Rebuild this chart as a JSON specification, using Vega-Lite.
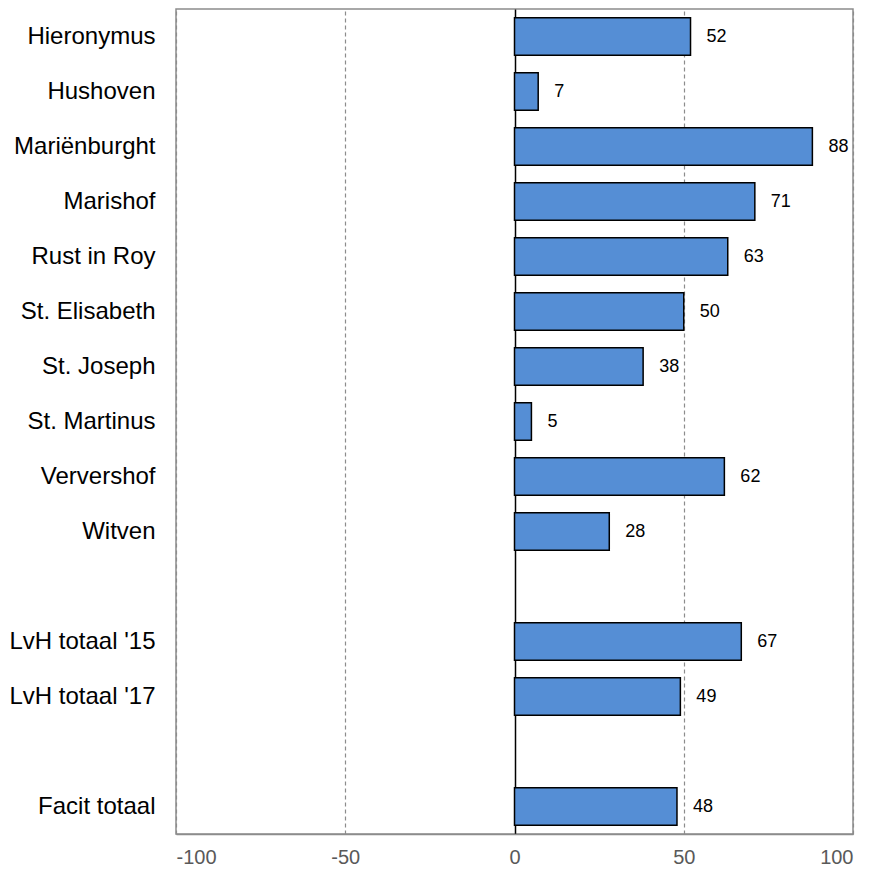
{
  "$schema": "https://vega.github.io/schema/vega-lite/v6.json",
  "width": 677,
  "height": 825,
  "autosize": {"type": "none"},
  "padding": {"left": 176, "top": 9, "right": 19, "bottom": 35},
  "background": "white",
  "config": {
    "font": "Liberation Sans",
    "view": {"stroke": "#8c8c8c", "strokeWidth": 1.5}
  },
  "data": {
    "values": [
      {"name": "Hieronymus", "value": 52},
      {"name": "Hushoven", "value": 7},
      {"name": "Mariënburght", "value": 88},
      {"name": "Marishof", "value": 71},
      {"name": "Rust in Roy", "value": 63},
      {"name": "St. Elisabeth", "value": 50},
      {"name": "St. Joseph", "value": 38},
      {"name": "St. Martinus", "value": 5},
      {"name": "Ververshof", "value": 62},
      {"name": "Witven", "value": 28},
      {"name": "LvH totaal '15", "value": 67},
      {"name": "LvH totaal '17", "value": 49},
      {"name": "Facit totaal", "value": 48}
    ]
  },
  "encoding": {
    "y": {
      "field": "name",
      "type": "nominal",
      "title": null,
      "scale": {
        "domain": ["Hieronymus", "Hushoven", "Mariënburght", "Marishof", "Rust in Roy", "St. Elisabeth", "St. Joseph", "St. Martinus", "Ververshof", "Witven", " ", "LvH totaal '15", "LvH totaal '17", "  ", "Facit totaal"],
        "paddingInner": 0.32,
        "paddingOuter": 0.16
      },
      "axis": {
        "domain": false,
        "ticks": false,
        "labelFontSize": 24,
        "labelColor": "#000000",
        "labelPadding": 21,
        "labelFont": "Liberation Sans"
      }
    }
  },
  "layer": [
    {
      "mark": {"type": "bar", "color": "#558ed5", "stroke": "#000000", "strokeWidth": 1.5},
      "encoding": {
        "x": {
          "field": "value",
          "type": "quantitative",
          "title": null,
          "scale": {"domain": [-100, 100], "nice": false, "zero": false},
          "axis": {
            "values": [-100, -50, 0, 50, 100],
            "labelExpr": "datum.value < 0 ? '-' + abs(datum.value) : '' + datum.value",
            "grid": true,
            "gridColor": {"condition": {"test": "datum.value === 0", "value": "#000000"}, "value": "#8c8c8c"},
            "gridDash": {"condition": {"test": "datum.value === 0", "value": []}, "value": [4, 3]},
            "gridWidth": {"condition": {"test": "datum.value === 0", "value": 1.5}, "value": 1.2},
            "ticks": false,
            "domainColor": "#8c8c8c",
            "domainWidth": 1.5,
            "labelFontSize": 20,
            "labelColor": "#595959",
            "labelPadding": 13,
            "labelFont": "Liberation Sans"
          }
        }
      }
    },
    {
      "mark": {"type": "text", "align": "left", "dx": 16, "fontSize": 18, "color": "#000000", "font": "Liberation Sans"},
      "encoding": {
        "x": {"field": "value", "type": "quantitative"},
        "text": {"field": "value", "type": "quantitative"}
      }
    }
  ]
}
